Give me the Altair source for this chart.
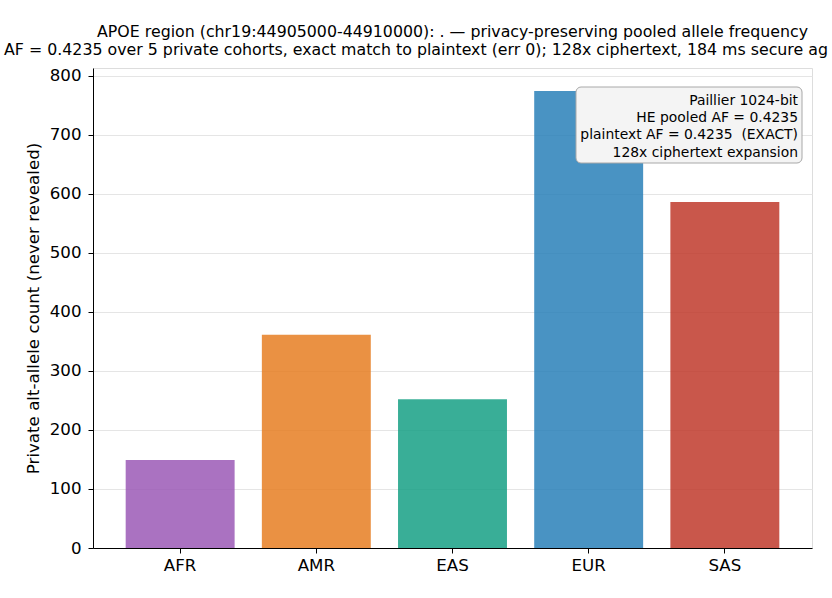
import altair as alt
import pandas as pd

populations = ["AFR", "AMR", "EAS", "EUR", "SAS"]
alt_counts = [149, 361, 252, 774, 586]
bar_colors = ["#9b59b6", "#e67e22", "#16a085", "#2980b9", "#c0392b"]

title_line1 = "APOE region (chr19:44905000-44910000): . \u2014 privacy-preserving pooled allele frequency"
title_line2 = "AF = 0.4235 over 5 private cohorts, exact match to plaintext (err 0); 128x ciphertext, 184 ms secure ag"
box_lines = [
    "Paillier 1024-bit",
    "HE pooled AF = 0.4235",
    "plaintext AF = 0.4235 \u00a0(EXACT)",
    "128x ciphertext expansion",
]
y_title = "Private alt-allele count (never revealed)"
y_max = 813

df = pd.DataFrame({"pop": populations, "count": alt_counts})
one = alt.Data(values=[{"k": 1}])

W, H = 719, 480
LEFT, TOP = 93, 68
FONT = "DejaVu Sans"
TICK_FS = 16.67
TITLE_FS = 15.8

bars = alt.Chart(df).mark_bar(opacity=0.85).encode(
    x=alt.X(
        "pop:N",
        sort=populations,
        scale=alt.Scale(paddingInner=0.2, paddingOuter=0.24),
        axis=alt.Axis(
            title=None, labelAngle=0, labelFontSize=TICK_FS, labelFont=FONT,
            labelColor="black", tickColor="black", tickSize=5,
            domainColor="black", labelPadding=4,
        ),
    ),
    y=alt.Y(
        "count:Q",
        scale=alt.Scale(domain=[0, y_max], nice=False),
        axis=alt.Axis(
            title=y_title, values=list(range(0, 801, 100)),
            labelFontSize=TICK_FS, labelFont=FONT, labelColor="black",
            titleFontSize=TICK_FS, titleFont=FONT, titleFontWeight="normal",
            titleColor="black", tickColor="black", tickSize=5,
            domainColor="black", gridColor="#e5e5e5", gridWidth=1,
            titlePadding=7, labelPadding=7,
        ),
    ),
    color=alt.Color("pop:N", scale=alt.Scale(domain=populations, range=bar_colors), legend=None),
)

box = alt.Chart(one).mark_rect(
    fill="#f4f4f4", opacity=1, stroke="#a8a8a8", strokeWidth=1, cornerRadius=5
).encode(
    x=alt.value(483), x2=alt.value(709), y=alt.value(19), y2=alt.value(95)
)

box_text = alt.Chart(one).mark_text(
    align="right", baseline="middle", fontSize=13.9, font=FONT, color="black",
    lineHeight=17.4, text=box_lines,
).encode(x=alt.value(705), y=alt.value(32.5))

title1 = alt.Chart(one).mark_text(
    align="center", baseline="middle", fontSize=TITLE_FS, font=FONT, color="black",
    text=title_line1,
).encode(x=alt.value(W / 2), y=alt.value(32 - TOP))

title2 = alt.Chart(one).mark_text(
    align="center", baseline="middle", fontSize=TITLE_FS, font=FONT, color="black",
    text=title_line2,
).encode(x=alt.value(416 - LEFT), y=alt.value(50 - TOP))

chart = alt.layer(bars, box, box_text, title1, title2).properties(
    width=W, height=H,
    autosize=alt.AutoSizeParams(type="none"),
    padding={"left": LEFT, "top": TOP, "right": 20, "bottom": 50},
).configure_view(stroke="black", strokeWidth=1).configure(background="white")

chart.save("out.html", embed_options={"renderer": "svg", "actions": False})
